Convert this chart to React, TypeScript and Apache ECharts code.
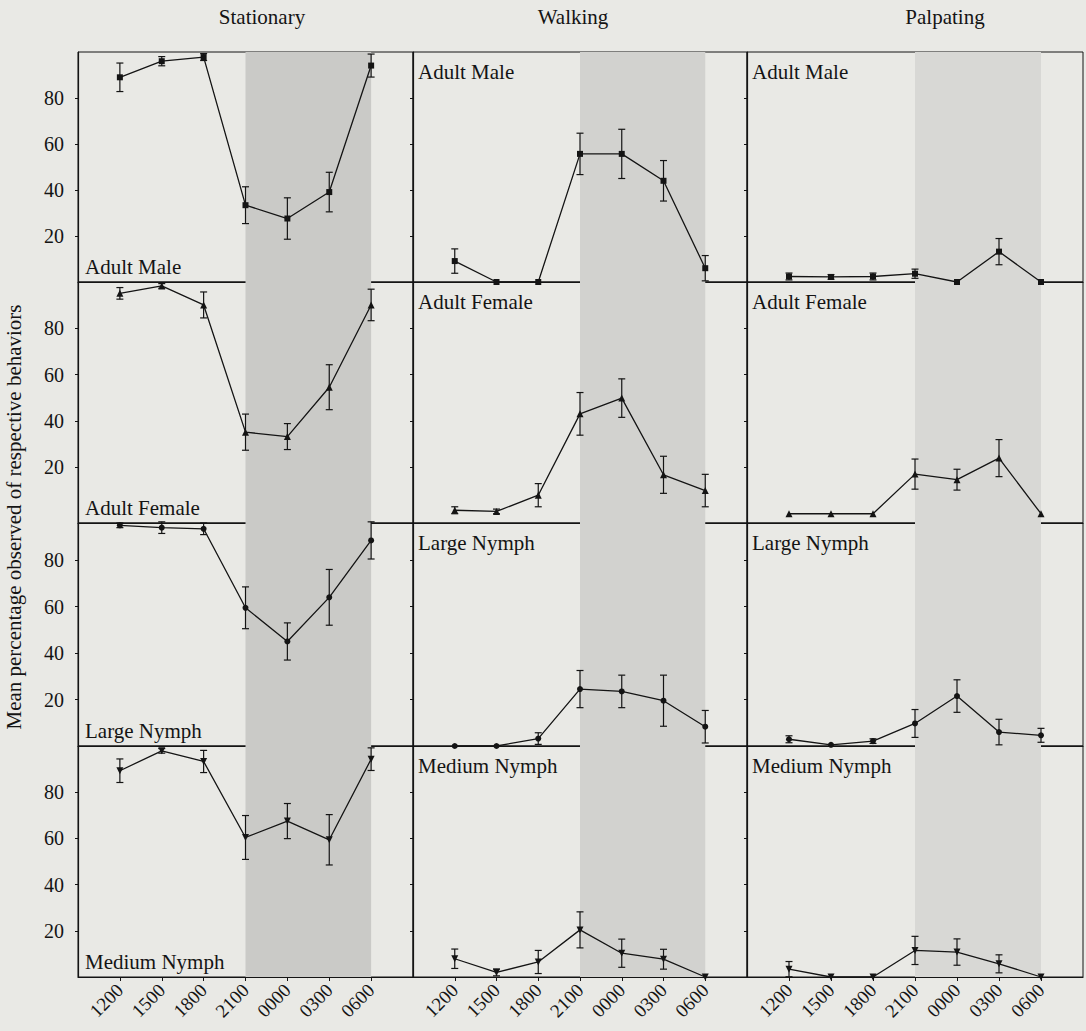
import React, { useEffect, useRef } from 'react';
import * as echarts from 'echarts';

const times = ['1200', '1500', '1800', '2100', '0000', '0300', '0600'];
const behaviors = ['Stationary', 'Walking', 'Palpating'];
const stages = ['Adult Male', 'Adult Female', 'Large Nymph', 'Medium Nymph'];
const yTickValues = [20, 40, 60, 80];
const yAxisTitle = 'Mean percentage observed of respective behaviors';

// Stationary
const stationaryAdultMale = [89, 96, 97.8, 33.4, 27.6, 39.1, 94.1];
const stationaryAdultMaleErr = [6.2, 2, 1.5, 8, 9, 8.6, 5];
const stationaryAdultFemale = [95.1, 98.3, 90.1, 35.2, 33.3, 54.6, 90.1];
const stationaryAdultFemaleErr = [2.5, 1, 5.6, 7.8, 5.6, 9.7, 6.8];
const stationaryLargeNymph = [95, 94, 93.5, 59.5, 45, 64, 88.5];
const stationaryLargeNymphErr = [1, 2.5, 2.5, 9, 8, 12, 8];
const stationaryMediumNymph = [89.3, 97.9, 93.3, 60.4, 67.5, 59.4, 94.3];
const stationaryMediumNymphErr = [5.1, 1, 4.8, 9.5, 7.6, 10.9, 4.9];

// Walking
const walkingAdultMale = [9.1, 0, 0, 55.7, 55.7, 44, 6];
const walkingAdultMaleErr = [5.3, 0, 0, 9, 10.7, 8.8, 5.5];
const walkingAdultFemale = [1.5, 1, 8, 43.1, 49.9, 16.8, 10];
const walkingAdultFemaleErr = [1.5, 1, 5, 9.2, 8.3, 8, 7];
const walkingLargeNymph = [0, 0, 3.2, 24.5, 23.5, 19.5, 8.3];
const walkingLargeNymphErr = [0, 0, 2.5, 8, 7, 11, 7];
const walkingMediumNymph = [7.9, 2, 6.5, 20.4, 10.3, 7.7, 0];
const walkingMediumNymphErr = [4.2, 1.5, 5, 7.8, 6.1, 4.3, 0];

// Palpating
const palpatingAdultMale = [2.4, 2.2, 2.4, 3.6, 0, 13.2, 0];
const palpatingAdultMaleErr = [1.5, 1, 1.5, 2, 0, 5.7, 0];
const palpatingAdultFemale = [0, 0, 0, 17.1, 14.7, 24, 0];
const palpatingAdultFemaleErr = [0, 0, 0, 6.5, 4.5, 8, 0];
const palpatingLargeNymph = [2.9, 0.5, 2.1, 9.7, 21.5, 6, 4.6];
const palpatingLargeNymphErr = [1.5, 0, 1, 6, 7, 5.5, 3];
const palpatingMediumNymph = [3.4, 0, 0, 11.5, 10.8, 5.7, 0];
const palpatingMediumNymphErr = [3.3, 0, 0, 6.1, 5.7, 3.9, 0];

const nightStart = '2100';
const nightEnd = '0600';

const panelValues = [
  [stationaryAdultMale, walkingAdultMale, palpatingAdultMale],
  [stationaryAdultFemale, walkingAdultFemale, palpatingAdultFemale],
  [stationaryLargeNymph, walkingLargeNymph, palpatingLargeNymph],
  [stationaryMediumNymph, walkingMediumNymph, palpatingMediumNymph],
];
const panelErrors = [
  [stationaryAdultMaleErr, walkingAdultMaleErr, palpatingAdultMaleErr],
  [stationaryAdultFemaleErr, walkingAdultFemaleErr, palpatingAdultFemaleErr],
  [stationaryLargeNymphErr, walkingLargeNymphErr, palpatingLargeNymphErr],
  [stationaryMediumNymphErr, walkingMediumNymphErr, palpatingMediumNymphErr],
];

// layout
const colLeft = [78, 413, 747];
const colWidth = [335, 334, 336];
const rowTop = [52, 282, 523, 746];
const rowHeight = [230, 241, 223, 231];
const rowMin = [0, -4, 0, 0];
const rowMax = [100, 100, 96, 100];
const rowSymbol = ['rect', 'triangle', 'circle', 'triangle'];
const rowSymbolRotate = [0, 0, 0, 180];
const rowSymbolSize = [6, 7, 6, 7];
const shade = ['#cacac7', '#d2d2cf', '#d8d8d5'];
const titleX = [262, 573, 945];
const FONT = "'Liberation Serif', 'Times New Roman', serif";
const INK = '#141414';

export default function App() {
  const ref = useRef<HTMLDivElement>(null);
  useEffect(() => {
    if (!ref.current) return;
    const chart = echarts.init(ref.current, undefined, { renderer: 'svg' });
    const grids: any[] = [];
    const xAxes: any[] = [];
    const yAxes: any[] = [];
    const series: any[] = [];
    const graphics: any[] = [];
    const nightFrom = times.indexOf(nightStart);
    const nightTo = times.indexOf(nightEnd);

    for (let r = 0; r < stages.length; r++) {
      for (let c = 0; c < behaviors.length; c++) {
        const k = r * 3 + c;
        grids.push({
          left: colLeft[c], top: rowTop[r], width: colWidth[c], height: rowHeight[r],
          show: true, borderColor: INK, borderWidth: 1, backgroundColor: 'transparent',
        });
        const bottomRow = r === stages.length - 1;
        xAxes.push({
          type: 'value', gridIndex: k, min: -1, max: times.length,
          axisLine: { show: true, onZero: false, lineStyle: { color: INK, width: 1.2 } },
          axisTick: { show: bottomRow, length: 4, customValues: times.map((_, i) => i), lineStyle: { color: INK } },
          axisLabel: {
            show: bottomRow, rotate: 45, margin: 10, fontSize: 19, fontFamily: FONT, color: INK,
            customValues: times.map((_, i) => i),
            formatter: (v: number) => times[v] ?? '',
          },
          splitLine: { show: false },
        });
        yAxes.push({
          type: 'value', gridIndex: k, min: rowMin[r], max: rowMax[r],
          axisLine: { show: true, onZero: false, lineStyle: { color: INK, width: 1.2 } },
          axisTick: { show: true, length: 3, customValues: yTickValues, lineStyle: { color: INK } },
          axisLabel: {
            show: c === 0, margin: 14, fontSize: 20, fontFamily: FONT, color: INK,
            customValues: yTickValues,
          },
          splitLine: { show: false },
        });
        const vals = panelValues[r][c];
        const errs = panelErrors[r][c];
        series.push({
          type: 'line', xAxisIndex: k, yAxisIndex: k, silent: true,
          data: [], symbol: 'none',
          markArea: {
            silent: true,
            itemStyle: { color: shade[c] },
            data: [[{ xAxis: nightFrom }, { xAxis: nightTo }]],
          },
          z: 1,
        });
        series.push({
          type: 'custom', xAxisIndex: k, yAxisIndex: k, silent: true, clip: false, z: 4,
          data: vals.map((v, i) => [i, v - errs[i], v + errs[i], errs[i]]).filter((d) => d[3] > 0),
          encode: { x: 0, y: [1, 2] },
          renderItem: (params: any, api: any) => {
            const x = api.value(0);
            const lo = api.coord([x, api.value(1)]);
            const hi = api.coord([x, api.value(2)]);
            const hw = 3.5;
            const style = { stroke: INK, lineWidth: 1.2 };
            return {
              type: 'group',
              children: [
                { type: 'line', shape: { x1: hi[0], y1: hi[1], x2: lo[0], y2: lo[1] }, style },
                { type: 'line', shape: { x1: hi[0] - hw, y1: hi[1], x2: hi[0] + hw, y2: hi[1] }, style },
                { type: 'line', shape: { x1: lo[0] - hw, y1: lo[1], x2: lo[0] + hw, y2: lo[1] }, style },
              ],
            };
          },
        });
        series.push({
          type: 'line', xAxisIndex: k, yAxisIndex: k, silent: true, z: 5,
          data: vals.map((v, i) => [i, v]),
          symbol: rowSymbol[r], symbolSize: rowSymbolSize[r], symbolRotate: rowSymbolRotate[r],
          showAllSymbol: true,
          itemStyle: { color: INK, borderWidth: 0 },
          lineStyle: { color: INK, width: 1.3 },
        });
        if (c === 0) {
          graphics.push({
            type: 'text', x: colLeft[c] + 7, y: rowTop[r] + rowHeight[r] - 15,
            style: { text: stages[r], fontSize: 21, fontFamily: FONT, fill: INK, verticalAlign: 'middle', align: 'left' },
            z: 10,
          });
        } else {
          graphics.push({
            type: 'text', x: colLeft[c] + 5, y: rowTop[r] + 19.5,
            style: { text: stages[r], fontSize: 21, fontFamily: FONT, fill: INK, verticalAlign: 'middle', align: 'left' },
            z: 10,
          });
        }
      }
    }
    behaviors.forEach((b, c) => {
      graphics.push({
        type: 'text', x: titleX[c], y: 17,
        style: { text: b, fontSize: 21, fontFamily: FONT, fill: INK, align: 'center', verticalAlign: 'middle' },
      });
    });
    graphics.push({
      type: 'text', x: 14, y: 517, rotation: Math.PI / 2,
      style: { text: yAxisTitle, fontSize: 21, fontFamily: FONT, fill: INK, align: 'center', verticalAlign: 'middle' },
    });

    chart.setOption({
      animation: false,
      backgroundColor: '#e9e9e5',
      grid: grids,
      xAxis: xAxes,
      yAxis: yAxes,
      series,
      graphic: graphics,
    });
    return () => chart.dispose();
  }, []);
  return (
    <div
      ref={ref}
      style={{ position: 'fixed', left: 0, top: 0, width: 1086, height: 1031 }}
    />
  );
}
